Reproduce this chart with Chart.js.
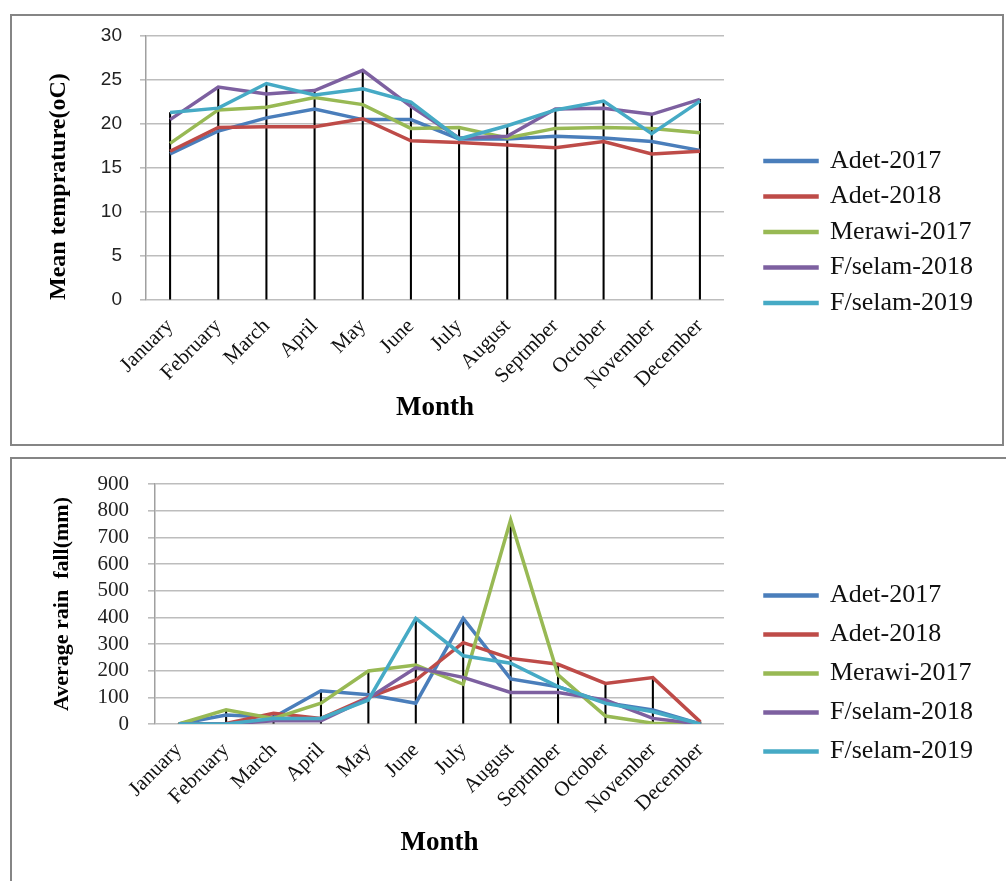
<!DOCTYPE html>
<html><head><meta charset="utf-8">
<script src="https://cdn.jsdelivr.net/npm/chart.js@4"></script>
<style>
html,body{margin:0;padding:0;background:#fff;overflow:hidden;width:1006px;height:881px;}
.box{position:absolute;border:2px solid #858585;background:#fff;}
#b1{left:10px;top:14px;width:990px;height:428px;}
#b2{left:10px;top:457px;width:1000px;height:428px;}
canvas{display:block;}
</style></head><body>
<div class="box" id="b1"><canvas id="c1" width="990" height="428"></canvas></div>
<div class="box" id="b2"><canvas id="c2" width="990" height="428"></canvas></div>
<script>
const months = ['January','February','March','April','May','June','July','August','Septmber','October','November','December'];
const seriesNames = ['Adet-2017','Adet-2018','Merawi-2017','F/selam-2018','F/selam-2019'];
const seriesColors = ['#4A7EBB','#BE4B48','#98B954','#7D60A0','#46AAC5'];

// Mean temperature (oC)
const tempAdet2017   = [16.6,19.2,20.7,21.7,20.5,20.5,18.3,18.3,18.6,18.4,18.0,17.0];
const tempAdet2018   = [16.9,19.6,19.7,19.7,20.6,18.1,17.9,17.6,17.3,18.0,16.6,16.9];
const tempMerawi2017 = [17.8,21.6,21.9,23.0,22.2,19.5,19.6,18.4,19.5,19.6,19.5,19.0];
const tempFselam2018 = [20.5,24.2,23.4,23.8,26.1,22.0,18.4,18.6,21.7,21.8,21.1,22.8];
const tempFselam2019 = [21.3,21.8,24.6,23.3,24.0,22.5,18.3,19.8,21.6,22.6,18.9,22.6];

// Average rain fall (mm)
const rainAdet2017   = [0,34,25,125,110,78,396,169,140,80,53,0];
const rainAdet2018   = [0,2,40,21,100,165,305,246,224,152,174,8];
const rainMerawi2017 = [0,53,21,78,199,221,149,765,184,30,3,0];
const rainFselam2018 = [0,0,12,12,97,211,175,118,118,90,21,0];
const rainFselam2019 = [0,0,21,21,90,396,256,228,140,78,46,0];

const tempTicks = {min:0, max:30, step:5};
const rainTicks = {min:0, max:900, step:100};

const SERIF = "'Liberation Serif','Times New Roman',serif";
const SANS = "'Liberation Sans',Arial,sans-serif";

function fixLegendWidth(w){
  return {id:'fixLegendWidth', beforeLayout(chart){
    const lg = chart.legend;
    if (lg && !lg._fixedW){
      const f = lg.fit;
      lg.fit = function(){ f.call(this); this.width = w; };
      lg._fixedW = true;
    }
  }};
}

function makeChart(id, series, cfg){
  const drop = months.map((m,i)=>Math.max(...series.map(s=>s[i])));
  const datasets = series.map((s,k)=>({
    type:'line', label:seriesNames[k], data:s,
    borderColor:seriesColors[k], backgroundColor:seriesColors[k],
    borderWidth:3.5, pointRadius:0, tension:0, order:10-k
  }));
  datasets.push({type:'bar', label:'drop', data:drop, backgroundColor:'#000',
    borderWidth:0, barThickness:1.4, order:20});
  return new Chart(document.getElementById(id), {
    type:'line',
    data:{labels:months, datasets},
    plugins:[fixLegendWidth(cfg.legendW)],
    options:{
      responsive:false, animation:false,
      layout:{padding:cfg.pad},
      plugins:{
        tooltip:{enabled:false},
        legend:{position:'right', align:'center',
          labels:{
            filter:(it)=>it.datasetIndex<5,
            sort:(a,b)=>a.datasetIndex-b.datasetIndex,
            boxWidth:52, boxHeight:1, padding:cfg.legPad, color:'#111',
            font:{family:SERIF, size:26}
          }}
      },
      scales:{
        x:{type:'category', offset:true,
          grid:{display:false, drawTicks:false},
          border:{display:false},
          ticks:{autoSkip:false, maxRotation:45, minRotation:45, padding:cfg.xPad,
            color:'#111', font:{family:SERIF, size:21}},
          title:{display:true, text:'Month', color:'#000',
            font:{family:SERIF, size:27, weight:'bold'}},
          afterFit:(s)=>{ s.height = cfg.xH; }
        },
        y:{position:'left', min:cfg.ticks.min, max:cfg.ticks.max,
          ticks:{stepSize:cfg.ticks.step, autoSkip:false, padding:cfg.yPad, color:'#222',
            font:cfg.tickFont},
          grid:{color:'#bdbdbd', lineWidth:1.6, tickLength:cfg.tl, drawTicks:true},
          border:{display:true, color:'#a0a0a0', width:1.5},
          title:{display:true, text:cfg.yTitle, color:'#000', align:cfg.yTitleAlign,
            font:{family:SERIF, size:cfg.yTitleSize, weight:'bold'}},
          afterFit:(s)=>{ s.width = cfg.yW; s.paddingTop = 4; s.paddingBottom = 4; }
        },
        y2:{position:'right', display:true,
          ticks:{display:false}, grid:{display:false, drawTicks:false},
          border:{display:false},
          afterFit:(s)=>{ s.width = cfg.y2W; s.paddingTop = 0; s.paddingBottom = 0; }
        }
      }
    }
  });
}

makeChart('c1', [tempAdet2017,tempAdet2018,tempMerawi2017,tempFselam2018,tempFselam2019], {
  ticks:tempTicks, yTitle:'Mean temprature(oC)', yTitleSize:24, yTitleAlign:'start',
  tickFont:{family:SANS, size:19}, yPad:18, tl:6,
  pad:{left:28, top:20, bottom:16, right:16.5},
  yW:106, xH:128, xPad:14, y2W:31.5, legendW:230, legPad:9.5
});
makeChart('c2', [rainAdet2017,rainAdet2018,rainMerawi2017,rainFselam2018,rainFselam2019], {
  ticks:rainTicks, yTitle:'Average rain  fall(mm)', yTitleSize:22, yTitleAlign:'center',
  tickFont:{family:SERIF, size:21}, yPad:19, tl:7,
  pad:{left:33, top:25, bottom:24, right:20},
  yW:110, xH:139, xPad:14, y2W:28, legendW:230, legPad:13
});
</script>
</body></html>
